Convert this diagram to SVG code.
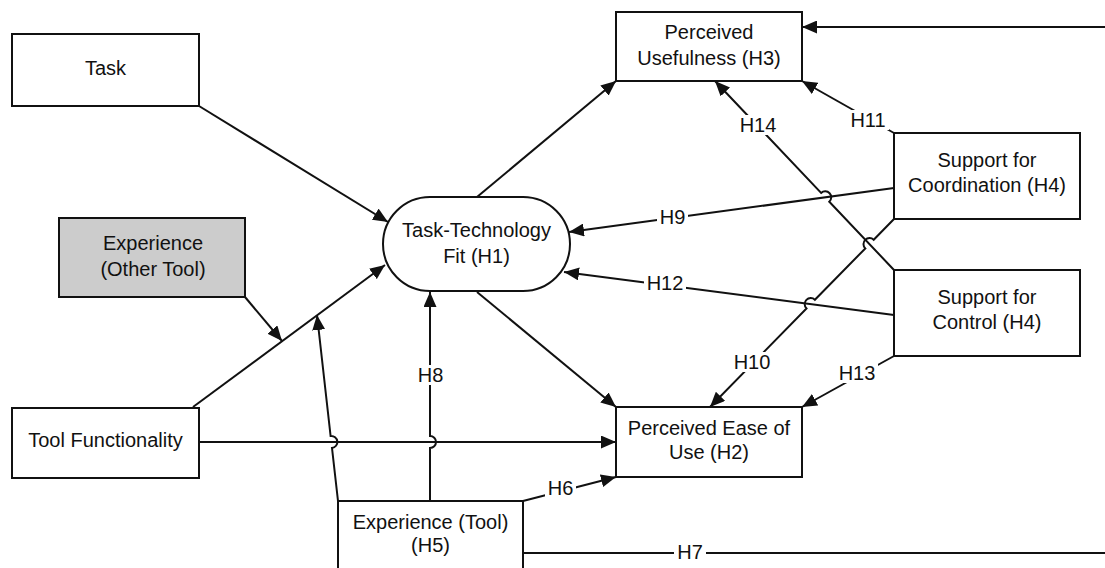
<svg xmlns="http://www.w3.org/2000/svg" width="1105" height="568" viewBox="0 0 1105 568">
  <style>
    .box { fill: #ffffff; stroke: #111111; stroke-width: 2; }
    .grey { fill: #cccccc; }
    .txt { font-family: "Liberation Sans", Arial, sans-serif; font-size: 20px; fill: #111111; text-anchor: middle; }
    .edge { fill: none; stroke: #111111; stroke-width: 2; }
    .arrow { marker-end: url(#head); }
    .lblbg { fill: #ffffff; stroke: none; }
  </style>
  <defs>
    <marker id="head" markerUnits="userSpaceOnUse" markerWidth="16" markerHeight="13" refX="15" refY="6.5" orient="auto">
      <path d="M0,0 L15,6.5 L0,13 z" fill="#111111"/>
    </marker>
  </defs>

  <rect width="1105" height="568" fill="#ffffff"/>

  <!-- connectors -->
  <g id="connectors">
    <path class="edge arrow" d="M199,106 L388,222"/>
    <path class="edge arrow" d="M193,407 L385,265"/>
    <path class="edge arrow" d="M245,297 L282,341"/>
    <path class="edge arrow" d="M338,501 L332,448 A6,6 0 0 0 330.6,436 L317,315"/>
    <path class="edge arrow" d="M430,501 L430,448 A6,6 0 0 0 430,436 L430,292"/>
    <path class="edge arrow" d="M199,442 L616,442"/>
    <path class="edge arrow" d="M477,197 L616,81"/>
    <path class="edge arrow" d="M477,292 L616,407"/>
    <path class="edge arrow" d="M1105,27 L802,27"/>
    <path class="edge arrow" d="M894,133 L802,81"/>
    <path class="edge arrow" d="M894,270 L829.3,201.7 A6,6 0 0 0 821.1,192.9 L715,81"/>
    <path class="edge arrow" d="M894,188 L569,232"/>
    <path class="edge arrow" d="M894,315 L564,272"/>
    <path class="edge arrow" d="M894,219 L873.7,239.8 A6,6 0 0 0 865.3,248.4 L814.9,299.8 A6,6 0 0 0 806.5,308.4 L710,407"/>
    <path class="edge arrow" d="M894,356 L802,407"/>
    <path class="edge arrow" d="M523,501 L616,477"/>
    <path class="edge" d="M523,553 L1105,553"/>

    <!-- hypothesis labels -->
    <g id="labels">
      <rect class="lblbg" x="545" y="479" width="31" height="19"/>
      <text class="txt" x="560.5" y="495">H6</text>
      <rect class="lblbg" x="674" y="543" width="32" height="19"/>
      <text class="txt" x="690" y="559">H7</text>
      <rect class="lblbg" x="419" y="365" width="23" height="20"/>
      <text class="txt" x="430.5" y="382">H8</text>
      <rect class="lblbg" x="657" y="208" width="31" height="19"/>
      <text class="txt" x="672.5" y="224">H9</text>
      <rect class="lblbg" x="731" y="352" width="42" height="20"/>
      <text class="txt" x="752" y="369">H10</text>
      <rect class="lblbg" x="847" y="110" width="42" height="20"/>
      <text class="txt" x="868" y="127">H11</text>
      <rect class="lblbg" x="644" y="274" width="42" height="19"/>
      <text class="txt" x="665" y="290">H12</text>
      <rect class="lblbg" x="836" y="363" width="42" height="20"/>
      <text class="txt" x="857" y="380">H13</text>
      <rect class="lblbg" x="737" y="115" width="42" height="20"/>
      <text class="txt" x="758" y="132">H14</text>
    </g>
  </g>

  <!-- nodes -->
  <g id="task">
    <rect class="box" x="12" y="34" width="187" height="72"/>
    <text class="txt" x="105.5" y="75">Task</text>
  </g>
  <g id="experience-other-tool">
    <rect class="box grey" x="59" y="218" width="186" height="79"/>
    <text class="txt" x="153" y="250">Experience</text>
    <text class="txt" x="153" y="276">(Other Tool)</text>
  </g>
  <g id="tool-functionality">
    <rect class="box" x="12" y="408" width="187" height="70"/>
    <text class="txt" x="105.5" y="447">Tool Functionality</text>
  </g>
  <g id="task-technology-fit">
    <rect class="box" x="383" y="197" width="187" height="94" rx="47" ry="47"/>
    <text class="txt" x="476.5" y="237">Task-Technology</text>
    <text class="txt" x="476.5" y="263">Fit (H1)</text>
  </g>
  <g id="perceived-usefulness">
    <rect class="box" x="616" y="12" width="186" height="69"/>
    <text class="txt" x="709" y="39">Perceived</text>
    <text class="txt" x="709" y="65">Usefulness (H3)</text>
  </g>
  <g id="perceived-ease-of-use">
    <rect class="box" x="616" y="407" width="186" height="70"/>
    <text class="txt" x="709" y="435">Perceived Ease of</text>
    <text class="txt" x="709" y="459">Use (H2)</text>
  </g>
  <g id="support-coordination">
    <rect class="box" x="894" y="133" width="186" height="86"/>
    <text class="txt" x="987" y="167">Support for</text>
    <text class="txt" x="987" y="192">Coordination (H4)</text>
  </g>
  <g id="support-control">
    <rect class="box" x="894" y="270" width="186" height="86"/>
    <text class="txt" x="987" y="304">Support for</text>
    <text class="txt" x="987" y="329">Control (H4)</text>
  </g>
  <g id="experience-tool">
    <rect class="box" x="338" y="501" width="185" height="80"/>
    <text class="txt" x="430.5" y="529">Experience (Tool)</text>
    <text class="txt" x="430.5" y="552">(H5)</text>
  </g>
</svg>
